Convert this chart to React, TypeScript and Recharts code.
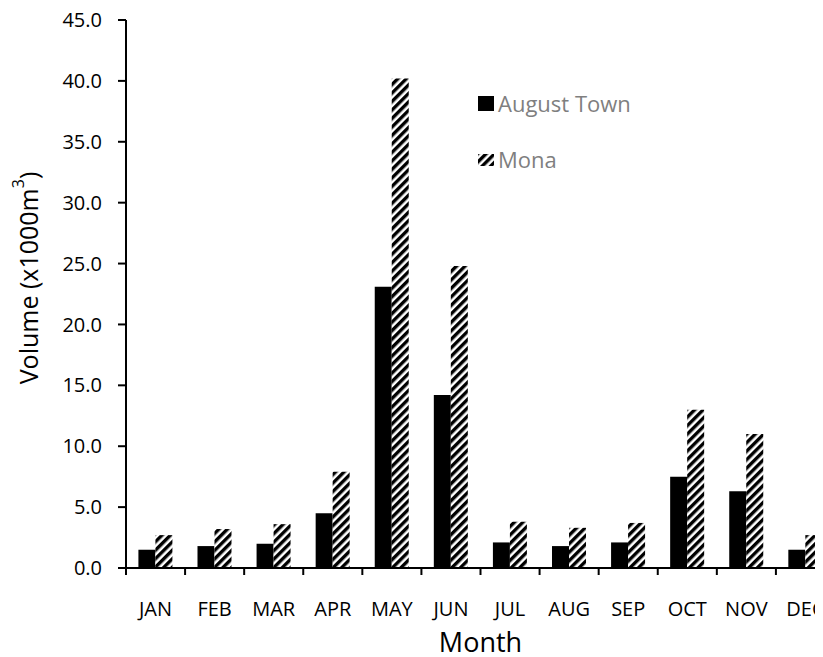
import React from "react";
import { BarChart, Bar, XAxis, YAxis, Legend } from "recharts";

const months = ["JAN", "FEB", "MAR", "APR", "MAY", "JUN", "JUL", "AUG", "SEP", "OCT", "NOV", "DEC"];
const augustTown = [1.5, 1.8, 2.0, 4.5, 23.1, 14.2, 2.1, 1.8, 2.1, 7.5, 6.3, 1.5];
const mona = [2.7, 3.2, 3.6, 7.9, 40.2, 24.8, 3.8, 3.3, 3.7, 13.0, 11.0, 2.7];
const yTicks = [0, 5, 10, 15, 20, 25, 30, 35, 40, 45];

const data = months.map((m, i) => ({ month: m, augustTown: augustTown[i], mona: mona[i] }));

const FONT = "'Open Sans', sans-serif";
const CHART_W = 840;
const CHART_H = 649;
const MARGIN = { top: 12, right: 13, left: 0, bottom: 0 };
const Y_W = 118;
const BAND = (CHART_W - MARGIN.left - MARGIN.right - Y_W) / months.length;

function MonthTick(props: any) {
  const { x, y, payload, index } = props;
  const half = payload && payload.offset ? payload.offset : BAND / 2;
  return (
    <g>
      {index === 0 && <line x1={x - half} x2={x - half} y1={y} y2={y + 7} stroke="#000" strokeWidth={2} />}
      <line x1={x + half} x2={x + half} y1={y} y2={y + 7} stroke="#000" strokeWidth={2} />
      <text x={x} y={y + 48} textAnchor="middle" fill="#000" fontSize={20} fontFamily={FONT}>
        {payload.value}
      </text>
    </g>
  );
}

function YTitle(props: any) {
  const vb = props.viewBox || { x: 0, y: 0, height: 0 };
  const cx = vb.x + 20;
  const cy = vb.y + vb.height / 2 - 16;
  return (
    <text
      x={cx}
      y={cy}
      transform={`rotate(-90, ${cx}, ${cy})`}
      textAnchor="middle"
      dominantBaseline="central"
      fontSize={25}
      fontFamily={FONT}
      fill="#000"
    >
      Volume (x1000m<tspan dy={-10} fontSize={16}>3</tspan>
      <tspan dy={10}>)</tspan>
    </text>
  );
}

function LegendBox() {
  const row = { display: "flex", alignItems: "center", height: 28, color: "#7f7f7f", fontSize: 22, fontFamily: FONT };
  return (
    <div style={{ display: "flex", flexDirection: "column", gap: 28 }}>
      <div style={row}>
        <svg width={18} height={16} style={{ marginRight: 2 }}>
          <rect x={0} y={1} width={16} height={15} fill="#000" />
        </svg>
        August Town
      </div>
      <div style={row}>
        <svg width={18} height={16} style={{ marginRight: 2 }}>
          <defs>
            <pattern id="hatchLegend" patternUnits="userSpaceOnUse" width={6} height={6} patternTransform="rotate(45)">
              <rect x={0} y={0} width={3.4} height={6} fill="#000" />
            </pattern>
          </defs>
          <rect x={0} y={3} width={16} height={12} fill="url(#hatchLegend)" />
        </svg>
        Mona
      </div>
    </div>
  );
}

export default function App() {
  return (
    <div style={{ width: 815, height: CHART_H, overflow: "hidden" }}>
      <BarChart
        width={CHART_W}
        height={CHART_H}
        data={data}
        margin={MARGIN}
        barCategoryGap="21%"
        barGap={0}
      >
        <defs>
          <pattern id="hatch" patternUnits="userSpaceOnUse" width={6} height={6} patternTransform="rotate(45)">
            <rect x={0} y={0} width={6} height={6} fill="#fff" />
            <rect x={0} y={0} width={3.4} height={6} fill="#000" />
          </pattern>
        </defs>
        <XAxis
          dataKey="month"
          height={CHART_H - MARGIN.top - 548}
          axisLine={{ stroke: "#000", strokeWidth: 2 }}
          tickLine={false}
          tickSize={0}
          tickMargin={0}
          tick={<MonthTick />}
          interval={0}
          label={{ value: "Month", position: "insideBottom", offset: 5, fontSize: 27, fontFamily: FONT, fill: "#000" }}
        />
        <YAxis
          width={Y_W}
          domain={[0, 45]}
          ticks={yTicks}
          allowDataOverflow
          tickFormatter={(v: number) => v.toFixed(1)}
          axisLine={{ stroke: "#000", strokeWidth: 2 }}
          tickLine={{ stroke: "#000", strokeWidth: 2 }}
          tickSize={8}
          tickMargin={16}
          tick={{ fill: "#000", fontSize: 20, fontFamily: FONT }}
          label={<YTitle />}
        />
        <Legend
          content={<LegendBox />}
          layout="vertical"
          verticalAlign="middle"
          align="center"
          wrapperStyle={{ left: 470, top: 81, width: 200 }}
        />
        <Bar dataKey="augustTown" name="August Town" fill="#000" isAnimationActive={false} />
        <Bar dataKey="mona" name="Mona" fill="url(#hatch)" isAnimationActive={false} />
      </BarChart>
    </div>
  );
}
